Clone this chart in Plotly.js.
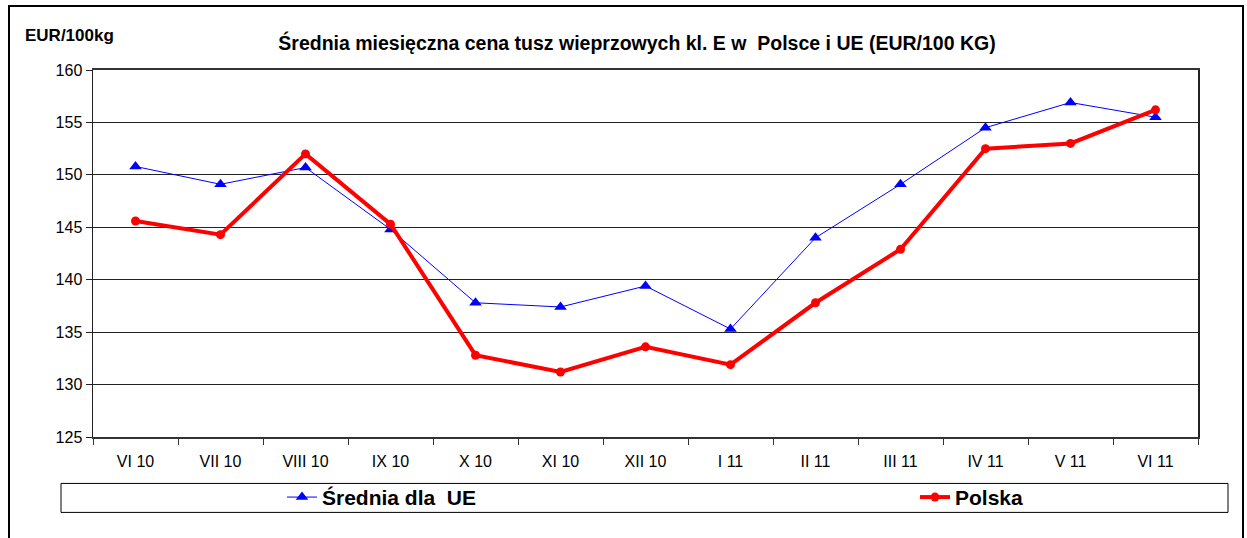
<!DOCTYPE html>
<html>
<head>
<meta charset="utf-8">
<script src="https://cdn.plot.ly/plotly-3.0.1.min.js"></script>
<style>html,body{margin:0;padding:0;background:#fff;}#chart{width:1247px;height:538px;}</style>
</head>
<body>
<div id="chart"></div>
<script>
const months = ["VI 10","VII 10","VIII 10","IX 10","X 10","XI 10","XII 10","I 11","II 11","III 11","IV 11","V 11","VI 11"];
const euValues = [150.8,149.1,150.7,144.8,137.8,137.4,139.4,135.3,144.0,149.1,154.5,156.9,155.5];
const plValues = [145.6,144.3,152.0,145.3,132.8,131.2,133.6,131.9,137.8,142.9,152.5,153.0,156.2];
const euName = "Średnia dla  UE";
const plName = "Polska";
const titleText = "Średnia miesięczna cena tusz wieprzowych kl. E w  Polsce i UE (EUR/100 KG)";
const yUnit = "EUR/100kg";

const W = 1247, H = 538;
const L = 93, R = 1198, T = 70, B = 437.5;
const px = v => (v - L) / (R - L);
const py = v => (B - v) / (B - T);
const FONT = "Liberation Sans, Arial, sans-serif";

const traces = [
  {
    x: months, y: euValues, name: euName, type: "scatter", mode: "lines+markers",
    line: {color: "#0000FF", width: 1},
    marker: {symbol: "triangle-up", size: 11, color: "#0000FF"},
    legend: "legend"
  },
  {
    x: months, y: plValues, name: plName, type: "scatter", mode: "lines+markers",
    line: {color: "#FF0000", width: 4},
    marker: {symbol: "circle", size: 9, color: "#FF0000"},
    legend: "legend2"
  }
];

const legendFont = {family: FONT, size: 21, weight: "bold", color: "#000"};

const layout = {
  width: W, height: H,
  margin: {l: L, r: W - R, t: T, b: H - B, pad: 0},
  paper_bgcolor: "#fff", plot_bgcolor: "#fff",
  font: {family: FONT, color: "#000", size: 15},
  title: {
    text: titleText, font: {family: FONT, size: 19.5, weight: "bold", color: "#000"},
    xref: "container", x: 637 / W, xanchor: "center",
    yref: "container", y: 1 - 43 / H, yanchor: "middle"
  },
  xaxis: {
    type: "category", range: [-0.5, 12.5], autorange: false,
    showgrid: false, zeroline: false,
    showline: true, linecolor: "#333", linewidth: 2, mirror: true,
    ticks: "outside", tickson: "boundaries", ticklen: 6, tickcolor: "#333",
    ticklabelstandoff: 9,
    tickfont: {family: FONT, size: 16, color: "#000"}
  },
  yaxis: {
    range: [125, 160], autorange: false, dtick: 5, tick0: 125,
    showgrid: true, gridcolor: "#222", gridwidth: 1,
    zeroline: false, showline: true, linecolor: "#222", linewidth: 1.5, mirror: true,
    ticks: "outside", ticklen: 6, tickcolor: "#222",
    tickfont: {family: FONT, size: 16, color: "#000"}
  },
  showlegend: true,
  legend: {
    orientation: "h", x: px(282), xanchor: "left", y: py(498), yanchor: "middle",
    bgcolor: "rgba(0,0,0,0)", borderwidth: 0, font: legendFont
  },
  legend2: {
    orientation: "h", x: px(915), xanchor: "left", y: py(498), yanchor: "middle",
    bgcolor: "rgba(0,0,0,0)", borderwidth: 0, font: legendFont
  },
  annotations: [
    {text: yUnit, xref: "paper", yref: "paper", x: px(69), y: py(35), xanchor: "center", yanchor: "middle",
     showarrow: false, font: {family: FONT, size: 17, weight: "bold", color: "#000"}}
  ],
  shapes: [
    {type: "rect", xref: "paper", yref: "paper", x0: px(9), x1: px(1243), y0: py(560), y1: py(6),
     line: {color: "#000", width: 2}, fillcolor: "rgba(0,0,0,0)", layer: "below"},
    {type: "rect", xref: "paper", yref: "paper", x0: px(61), x1: px(1228), y0: py(513), y1: py(484),
     line: {color: "#000", width: 1}, fillcolor: "rgba(0,0,0,0)", layer: "below"}
  ]
};

Plotly.newPlot("chart", traces, layout, {displayModeBar: false, staticPlot: true});
</script>
</body>
</html>
